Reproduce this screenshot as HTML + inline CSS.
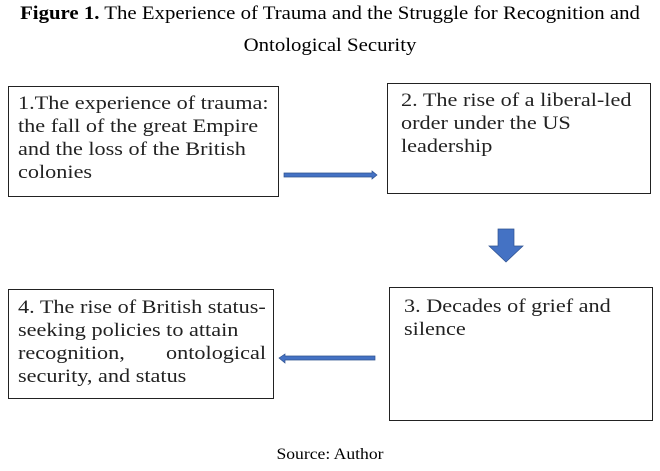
<html><head><style>
body{margin:0;width:660px;height:471px;background:#fff;position:relative;overflow:hidden}
.t{position:absolute;font-family:"Liberation Serif",serif;color:#000;white-space:nowrap}
.b{position:absolute;border:1.5px solid #222;box-sizing:border-box}
.l{position:absolute;font-family:"Liberation Serif",serif;font-size:19px;color:#222;white-space:nowrap;line-height:23px;transform:scaleX(1.17);transform-origin:0 0}
</style></head><body>
<div class="t" style="left:0;width:660px;text-align:center;top:3px;font-size:19px;transform:scaleX(1.095)"><b>Figure 1.</b> The Experience of Trauma and the Struggle for Recognition and</div>
<div class="t" style="left:0;width:660px;text-align:center;top:35px;font-size:19px;transform:scaleX(1.095)">Ontological Security</div>

<div class="b" style="left:8px;top:86px;width:271px;height:111px"></div>
<div class="l" style="left:18px;top:92px">1.The experience of trauma:<br>the fall of the great Empire<br>and the loss of the British<br>colonies</div>

<div class="b" style="left:387px;top:83px;width:264px;height:111px"></div>
<div class="l" style="left:401px;top:89px">2. The rise of a liberal-led<br>order under the US<br>leadership</div>

<div class="b" style="left:389px;top:287px;width:264px;height:134px"></div>
<div class="l" style="left:404px;top:295px">3. Decades of grief and<br>silence</div>

<div class="b" style="left:8px;top:289px;width:266px;height:110px"></div>
<div class="l" style="left:18px;top:296px">4. The rise of British status-<br>seeking policies to attain<br>recognition,<br>security, and status</div>
<div class="l" style="left:166px;top:342px">ontological</div>

<svg width="660" height="471" style="position:absolute;left:0;top:0">
<g fill="#4472c4" stroke="#2f528f" stroke-width="0.7">
<polygon points="284,173 372,173 372,171 377,175 372,179 372,177 284,177"/>
<polygon points="498,229 514,229 514,246 523,246 506,262 489,246 498,246"/>
<polygon points="375,356 285,356 285,354 279,358 285,363 285,360 375,360"/>
</g></svg>
<div class="t" style="left:0;width:660px;text-align:center;top:446px;font-size:16px;transform:scaleX(1.1)">Source: Author</div>
</body></html>
